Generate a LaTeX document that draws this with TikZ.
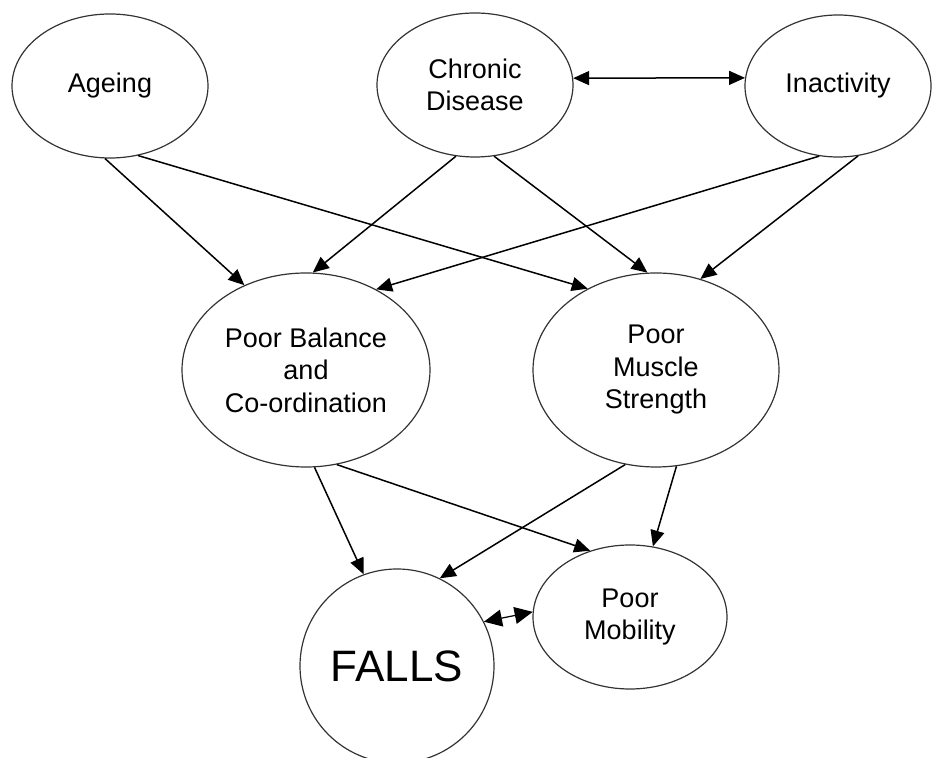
\documentclass[tikz,border=0pt]{standalone}
\usepackage{fontspec}
\setmainfont{Liberation Sans}
\usetikzlibrary{shapes.geometric,arrows.meta}

\begin{document}
\begin{tikzpicture}[x=0.5pt, y=-0.5pt,
    ovalnode/.style={ellipse, draw=black!80, line width=0.6pt, inner sep=0pt, minimum width=98pt, minimum height=72pt, align=center, font=\fontsize{13.5}{16.25}\selectfont},
    bignode/.style={ovalnode, minimum width=124pt, minimum height=97pt},
    arrow/.style={-{Triangle[length=8pt,width=7pt]}, line width=0.75pt},
    dblarrow/.style={{Triangle[length=8pt,width=7pt]}-{Triangle[length=8pt,width=7pt]}, line width=0.75pt}
    ]
    \useasboundingbox (0,0) rectangle (932,758);

    \node [ovalnode] (age) at (110, 86) {Ageing};
    \node [ovalnode] (chronic) at (475, 85) {Chronic\\Disease};
    \node [ovalnode, minimum width=93pt, minimum height=71pt] (inact) at (838, 86) {Inactivity};

    \node [bignode] (bal) at (306, 370) {Poor Balance\\and\\Co-ordination};
    \node [bignode, minimum width=123pt] (musc) at (656, 370) {Poor\\Muscle\\Strength};

    \node [ovalnode, circle, minimum size=97pt, font=\fontsize{22}{26}\selectfont] (falls) at (397, 666) {FALLS};
    \node [ovalnode, minimum width=97pt] (mob) at (630, 617) {Poor\\Mobility};

    % top row
    \draw [dblarrow] (chronic.4) -- (inact.175);
    \draw [arrow] (age.-94) -- (bal.126);
    \draw [arrow] (age.-68) -- (musc.130);
    \draw [arrow] (chronic.-105) -- (bal.86);
    \draw [arrow] (chronic.-75) -- (musc.95);
    \draw [arrow] (inact.-105) -- (bal.49);
    \draw [arrow] (inact.-74) -- (musc.64);

    % bottom row
    \draw [arrow] (bal.-85) -- (falls.110);
    \draw [arrow] (bal.-72) -- (mob.121);
    \draw [arrow] (musc.-108) -- (falls.64);
    \draw [arrow] (musc.-78) -- (mob.72);
    \draw [{Triangle[length=9pt,width=8.5pt]}-{Triangle[length=9pt,width=8.5pt]}, line width=0.6pt] (falls.27) -- (mob.177);
\end{tikzpicture}
\end{document}
